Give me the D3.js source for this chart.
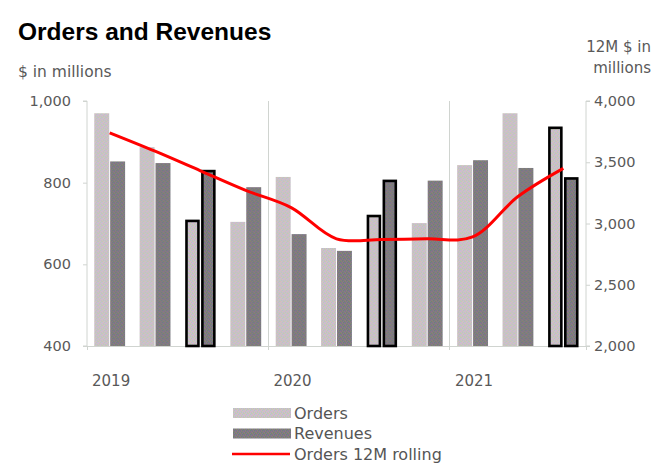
<!DOCTYPE html>
<html>
<head>
<meta charset="utf-8">
<script src="https://cdn.jsdelivr.net/npm/d3@7"></script>
<style>
  html, body { margin: 0; padding: 0; background: #fff; }
  svg { display: block; }
</style>
</head>
<body>
<svg id="chart" width="669" height="467"></svg>
<script>
// ---- data ----
const quarters = ["Q1 2019","Q2 2019","Q3 2019","Q4 2019","Q1 2020","Q2 2020","Q3 2020","Q4 2020","Q1 2021","Q2 2021","Q3 2021"];
const orders   = [970, 887, 710, 704, 814, 640, 722, 701, 843, 970, 938];
const revenues = [852, 848, 832, 789, 674, 633, 808, 805, 855, 836, 814];
const rolling  = [3740, 3590, 3430, 3270, 3130, 2875, 2870, 2875, 2890, 3220, 3450];
const highlighted = ["Q3 2019","Q3 2020","Q3 2021"];
const years = ["2019","2020","2021"];
const yearStart = ["Q1 2019","Q1 2020","Q1 2021"];
const leftTicks = [400, 600, 800, 1000];
const rightTicks = [2000, 2500, 3000, 3500, 4000];
const legendLabels = ["Orders","Revenues","Orders 12M rolling"];

// ---- layout ----
const svg = d3.select("#chart");
const L = 87, R = 586, T = 101, B = 346;
const textColor = "#595959";
const gridColor = "#d0d4d0";
const fontFam = "'DejaVu Sans', Verdana, sans-serif";

// patterns (dithered look)
const defs = svg.append("defs");
function makePattern(id, cols) {
  const p = defs.append("pattern").attr("id", id).attr("patternUnits", "userSpaceOnUse")
    .attr("width", 4).attr("height", 4);
  for (let i = 0; i < 4; i++) for (let j = 0; j < 4; j++) {
    p.append("rect").attr("x", i).attr("y", j).attr("width", 1).attr("height", 1)
      .attr("fill", cols[(i + j * 2 + (j % 2)) % cols.length]).attr("shape-rendering", "crispEdges");
  }
}
makePattern("pOrders", ["#d6b6cc", "#b4cdbc", "#c4bcd8", "#c6cab0", "#d0c0c4"]);
makePattern("pRevenues", ["#8e708f", "#6a8872", "#77768e", "#8a846c", "#7e7a80"]);

const x0 = d3.scaleBand().domain(quarters).range([L, R]).paddingInner(0.32).paddingOuter(0.16);
const x1 = d3.scaleBand().domain(["orders", "revenues"]).range([0, x0.bandwidth()]).paddingInner(0.06);
const yL = d3.scaleLinear().domain([400, 1000]).range([B, T]);
const yR = d3.scaleLinear().domain([2000, 4000]).range([B, T]);

// vertical grid lines at year boundaries
const boundaries = yearStart.map(q => x0(q) - x0.step() * x0.paddingOuter());
svg.append("g").selectAll("line").data(boundaries.slice(1)).join("line")
  .attr("x1", d => d).attr("x2", d => d).attr("y1", T).attr("y2", B + 4)
  .attr("stroke", gridColor).attr("stroke-width", 1).attr("shape-rendering", "crispEdges");

// left axis
const axL = d3.axisLeft(yL).tickValues(leftTicks).tickSize(4).tickPadding(12).tickFormat(d3.format(","));
const gL = svg.append("g").attr("transform", `translate(${L},0)`).call(axL);
// right axis
const axR = d3.axisRight(yR).tickValues(rightTicks).tickSize(4).tickPadding(4).tickFormat(d3.format(","));
const gR = svg.append("g").attr("transform", `translate(${R},0)`).call(axR);
[gL, gR].forEach(g => {
  g.select(".domain").attr("stroke", gridColor).attr("d", g === gL ? `M-4,${T}H0V${B}H-4` : `M4,${T}H0V${B}H4`);
  g.selectAll(".tick line").attr("stroke", gridColor);
  g.selectAll("text").attr("fill", textColor).attr("font-size", 14.5).attr("font-family", fontFam);
});

// bottom axis line
svg.append("line").attr("x1", L).attr("x2", R).attr("y1", B + 0.5).attr("y2", B + 0.5)
  .attr("stroke", gridColor);
svg.append("g").selectAll("line").data(boundaries.concat([R])).join("line")
  .attr("x1", d => d).attr("x2", d => d).attr("y1", B).attr("y2", B + 4)
  .attr("stroke", gridColor).attr("shape-rendering", "crispEdges");

// year labels
svg.append("g").selectAll("text").data(years).join("text")
  .attr("x", (d, i) => boundaries[i] + 5).attr("y", 386)
  .attr("fill", textColor).attr("font-size", 15).attr("font-family", fontFam)
  .text(d => d);

// bars
const rows = quarters.map((q, i) => ({ q, orders: orders[i], revenues: revenues[i], hl: highlighted.includes(q) }));
const groups = svg.append("g").selectAll("g").data(rows).join("g")
  .attr("transform", d => `translate(${x0(d.q)},0)`);
groups.selectAll("rect").data(d => ["orders", "revenues"].map(k => ({ k, v: d[k], hl: d.hl }))).join("rect")
  .attr("x", d => x1(d.k) + (d.hl ? 1.5 : 0))
  .attr("width", d => x1.bandwidth() - (d.hl ? 3 : 0))
  .attr("y", d => yL(d.v) + (d.hl ? 1.5 : 0))
  .attr("height", d => B - yL(d.v) - (d.hl ? 1.5 : 0))
  .attr("fill", d => d.k === "orders" ? "url(#pOrders)" : "url(#pRevenues)")
  .attr("stroke", d => d.hl ? "#000" : "none")
  .attr("stroke-width", 2.6);

// rolling line
const line = d3.line()
  .x((d, i) => x0(quarters[i]) + x0.bandwidth() / 2)
  .y(d => yR(d))
  .curve(d3.curveCatmullRom.alpha(0.5));
svg.append("path").datum(rolling).attr("d", line)
  .attr("fill", "none").attr("stroke", "#ff0000").attr("stroke-width", 3);

// titles
svg.append("text").attr("x", 18).attr("y", 40).attr("font-family", "'Liberation Sans', Arial, sans-serif")
  .attr("font-weight", "bold").attr("font-size", 24.5).attr("fill", "#000").text("Orders and Revenues");
svg.append("text").attr("x", 18).attr("y", 77).attr("font-family", fontFam)
  .attr("font-size", 15.5).attr("fill", textColor).text("$ in millions");
const rt = svg.append("text").attr("text-anchor", "end").attr("font-family", fontFam)
  .attr("font-size", 15).attr("fill", textColor);
rt.append("tspan").attr("x", 651).attr("y", 52).text("12M $ in");
rt.append("tspan").attr("x", 651).attr("y", 73).text("millions");

// legend
const lg = svg.append("g");
legendLabels.forEach((lab, i) => {
  const yy = 413 + i * 20.5;
  if (i < 2) {
    lg.append("rect").attr("x", 233).attr("y", yy - 5).attr("width", 58).attr("height", 10)
      .attr("fill", i === 0 ? "url(#pOrders)" : "url(#pRevenues)");
  } else {
    lg.append("line").attr("x1", 232).attr("x2", 290).attr("y1", yy).attr("y2", yy)
      .attr("stroke", "#ff0000").attr("stroke-width", 2.5);
  }
  lg.append("text").attr("x", 294).attr("y", yy + 5.5).attr("font-family", fontFam)
    .attr("font-size", 16).attr("fill", "#555").text(lab);
});
</script>
</body>
</html>
